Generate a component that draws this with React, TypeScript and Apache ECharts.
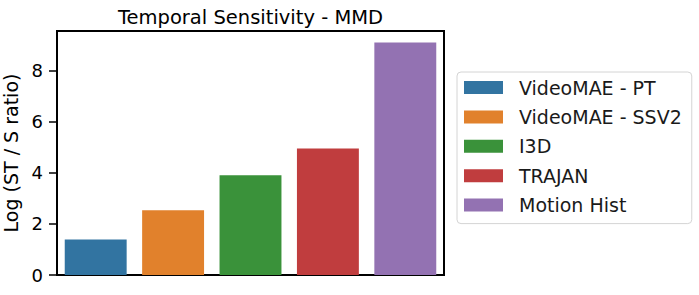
import React, { useEffect, useRef } from "react";
import * as echarts from "echarts";

const models = ["VideoMAE - PT", "VideoMAE - SSV2", "I3D", "TRAJAN", "Motion Hist"];
const values = [1.39, 2.54, 3.91, 4.96, 9.11];
const colors = ["#3274a1", "#e1812c", "#3a923a", "#c03d3e", "#9372b2"];
const yTicks = [0, 2, 4, 6, 8];
const yMax = 9.56;

const FONT = "DejaVu Sans";

export default function App() {
  const ref = useRef<HTMLDivElement>(null);
  useEffect(() => {
    const chart = echarts.init(ref.current!, null, { renderer: "svg" });
    const series = models.map((m, i) => ({
      name: m,
      type: "bar",
      data: values.map((v, j) => (j === i ? v : "-")),
      barWidth: "80%",
      barGap: "-100%",
      itemStyle: { color: colors[i] },
    }));
    chart.setOption({
      animation: false,
      textStyle: { fontFamily: FONT },
      grid: {
        left: 57,
        right: 255,
        top: 31,
        bottom: 20,
        outerBoundsMode: "none",
        containLabel: false,
        show: true,
        borderColor: "#000",
        borderWidth: 2,
        backgroundColor: "transparent",
      },
      xAxis: {
        type: "category",
        data: models,
        axisLine: { show: true, lineStyle: { color: "#000", width: 2 } },
        axisTick: { show: false },
        axisLabel: { show: false },
        splitLine: { show: false },
      },
      yAxis: {
        type: "value",
        min: 0,
        max: yMax,
        name: "Log (ST / S ratio)",
        nameLocation: "middle",
        nameGap: 31,
        nameTextStyle: { fontFamily: FONT, fontSize: 19, color: "#000" },
        axisLine: { show: true, lineStyle: { color: "#000", width: 2 } },
        axisTick: {
          show: true,
          length: 8,
          lineStyle: { color: "#000", width: 1.5 },
          customValues: yTicks,
        },
        axisLabel: {
          fontFamily: FONT,
          fontSize: 18,
          color: "#000",
          margin: 14,
          customValues: yTicks,
        },
        splitLine: { show: false },
      },
      legend: {
        orient: "vertical",
        left: 457,
        top: 72,
        data: models,
        itemWidth: 39,
        itemHeight: 13,
        itemGap: 10.4,
        icon: "rect",
        padding: [6, 10, 9, 7],
        borderColor: "#d4d4d4",
        borderWidth: 1,
        borderRadius: 4,
        backgroundColor: "#fff",
        textStyle: {
          fontFamily: FONT,
          fontSize: 19,
          lineHeight: 19,
          color: "#1a1a1a",
          padding: [0, 0, 0, 11],
        },
      },
      graphic: [
        {
          type: "text",
          x: 250.5,
          y: 17,
          style: {
            text: "Temporal Sensitivity - MMD",
            font: `19.5px '${FONT}'`,
            fill: "#000",
            textAlign: "center",
            textVerticalAlign: "middle",
          },
        },
      ],
      series,
    });
    return () => chart.dispose();
  }, []);
  return (
    <div
      ref={ref}
      style={{ position: "fixed", left: 0, top: 0, width: 699, height: 295, background: "#fff" }}
    />
  );
}
